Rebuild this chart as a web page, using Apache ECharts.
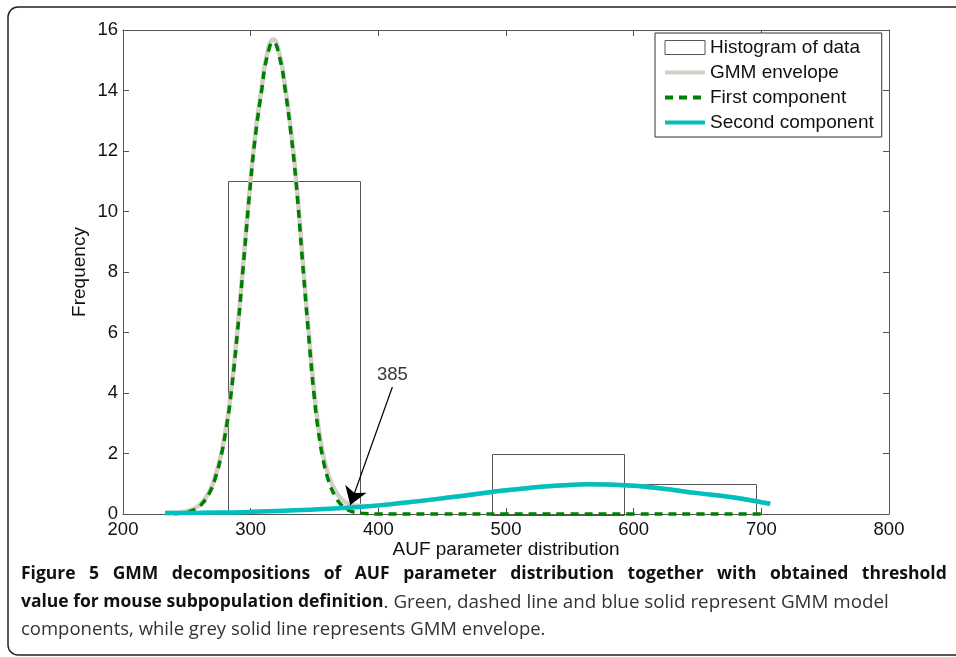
<!DOCTYPE html>
<html>
<head>
<meta charset="utf-8">
<script src="https://cdn.jsdelivr.net/npm/echarts@6/dist/echarts.min.js"></script>
<style>
html,body{margin:0;padding:0;background:#fff}
#main{width:956px;height:657px}
</style>
</head>
<body>
<div id="main"></div>
<script>
// histogram bins: [left edge, right edge, count]
var histBins = [[282, 385.5, 11], [385.5, 489, 0], [489, 592.5, 2], [592.5, 696, 1]];

// GMM envelope
var envX = [233, 240, 246, 252, 257, 262, 268, 272, 277, 280.5, 284, 289.5, 294.2, 300, 304, 308.6, 312.5, 317.7, 322.9, 327.1,
            331.2, 335.5, 340.7, 345, 349.5, 353, 357, 361, 366, 371, 377, 383, 392, 400, 420, 460, 489, 520, 545, 565,
            593, 620, 650, 680, 700, 707];
var envY = [0.03, 0.04, 0.065, 0.12, 0.21, 0.38, 0.77, 1.2, 2.0, 2.8, 3.81, 6.01, 8.27, 11.07, 12.68, 14.08, 15.14, 15.69, 15.15, 14.1,
            12.81, 11.12, 8.43, 6.24, 4.15, 2.91, 1.92, 1.28, 0.79, 0.5, 0.33, 0.275, 0.26, 0.28, 0.37, 0.57, 0.73, 0.87, 0.95, 0.98,
            0.95, 0.85, 0.69, 0.54, 0.39, 0.34];

// first component (green dashed)
var comp1X = [240, 246, 252, 257, 262, 268, 272, 277, 280.5, 284, 289.5, 294.2, 300, 304, 308.6, 312.5, 317.7, 322.9, 327.1, 331.2,
              335.5, 340.7, 345, 349.5, 353, 357, 361, 366, 371, 377, 383, 392, 400, 450, 500, 550, 600, 650, 700];
var comp1Y = [0.01, 0.03, 0.08, 0.17, 0.34, 0.72, 1.15, 1.95, 2.75, 3.75, 5.95, 8.2, 11.0, 12.6, 14.0, 15.05, 15.6, 15.05, 14.0, 12.7,
              11.0, 8.3, 6.1, 4.0, 2.75, 1.75, 1.1, 0.6, 0.3, 0.12, 0.05, 0.01, 0, 0, 0, 0, 0, 0, 0];

// second component (cyan)
var comp2X = [233, 260, 300, 340, 385, 420, 460, 489, 520, 545, 565, 593, 620, 650, 680, 700, 707];
var comp2Y = [0.03, 0.04, 0.07, 0.13, 0.23, 0.37, 0.57, 0.73, 0.87, 0.95, 0.98, 0.95, 0.85, 0.69, 0.54, 0.39, 0.34];

// threshold annotation
var arrowFrom = [411, 4.2];
var arrowTo = [378, 0.3];
var threshText = '385';

var caption1 = 'Figure 5 GMM decompositions of AUF parameter distribution together with obtained threshold';
var caption2b = 'value for mouse subpopulation definition';
var caption2 = '. Green, dashed line and blue solid represent GMM model';
var caption3 = 'components, while grey solid line represents GMM envelope.';

function pairs(xs, ys) {
  return xs.map(function (x, i) { return [x, ys[i]]; });
}

var font = 'Liberation Sans, Arial, sans-serif';
var capFont = 'Open Sans, Noto Sans, sans-serif';
var axisCol = '#555';

function frameAxis(pos, min, max, step) {
  return {
    type: 'value', position: pos, min: min, max: max, interval: step,
    axisLine: { show: true, onZero: false, lineStyle: { color: axisCol, width: 1 } },
    axisTick: { show: true, inside: true, length: 6, lineStyle: { color: axisCol } },
    axisLabel: { show: false },
    splitLine: { show: false }
  };
}

// justified first caption line: widen the word gaps
var cap1Rich = caption1.split(' ').map(function (w) { return '{b|' + w + '}'; }).join('{s| }');

var chart = echarts.init(document.getElementById('main'));
chart.setOption({
  animation: false,
  grid: { left: 123, right: 67, top: 30, bottom: 143 },
  legend: {
    orient: 'vertical', left: 655, top: 33,
    padding: [5, 8, 5, 8],
    itemWidth: 40, itemHeight: 14, itemGap: 6, itemTextGap: 4,
    backgroundColor: '#fff', borderColor: '#333', borderWidth: 1, borderRadius: 0,
    lineStyle: { width: 4 },
    textStyle: { fontSize: 19, color: '#111', fontFamily: font },
    data: [
      { name: 'Histogram of data', icon: 'rect', itemStyle: { color: '#fff', borderColor: '#555', borderWidth: 1 } },
      { name: 'GMM envelope', itemStyle: { opacity: 0 } },
      { name: 'First component', itemStyle: { opacity: 0 } },
      { name: 'Second component', itemStyle: { opacity: 0 } }
    ]
  },
  xAxis: [{
    type: 'value', min: 200, max: 800, interval: 100,
    name: 'AUF parameter distribution', nameLocation: 'middle', nameGap: 26, nameMoveOverlap: false,
    nameTextStyle: { fontSize: 19, color: '#111', fontFamily: font },
    axisLine: { show: true, onZero: false, lineStyle: { color: axisCol, width: 1 } },
    axisTick: { show: true, inside: true, length: 6, lineStyle: { color: axisCol } },
    axisLabel: { fontSize: 18.5, color: '#111', margin: 6, fontFamily: font },
    splitLine: { show: false }
  }, frameAxis('top', 200, 800, 100)],
  yAxis: [{
    type: 'value', min: 0, max: 16, interval: 2,
    name: 'Frequency', nameLocation: 'middle', nameGap: 34, nameMoveOverlap: false,
    nameTextStyle: { fontSize: 19, color: '#111', fontFamily: font },
    axisLine: { show: true, onZero: false, lineStyle: { color: axisCol, width: 1 } },
    axisTick: { show: true, inside: true, length: 6, lineStyle: { color: axisCol } },
    axisLabel: { fontSize: 18.5, color: '#111', margin: 5, fontFamily: font },
    splitLine: { show: false }
  }, frameAxis('right', 0, 16, 2)],
  series: [
    {
      type: 'custom', name: 'Histogram of data', data: histBins, z: 1,
      encode: { x: [0, 1], y: 2 },
      renderItem: function (params, api) {
        var p0 = api.coord([api.value(0), api.value(2)]);
        var p1 = api.coord([api.value(1), 0]);
        return {
          type: 'rect',
          shape: { x: Math.round(p0[0]) + 0.5, y: Math.round(p0[1]) + 0.5, width: Math.round(p1[0] - p0[0]), height: Math.round(p1[1] - p0[1]) },
          style: { fill: 'none', stroke: '#555', lineWidth: 1 }
        };
      }
    },
    {
      type: 'line', name: 'GMM envelope', data: pairs(envX, envY), z: 2,
      smooth: true, symbol: 'none', showSymbol: false, clip: false,
      lineStyle: { color: '#d4d0c8', width: 4.5 }, itemStyle: { color: '#d4d0c8' }
    },
    {
      type: 'line', name: 'First component', data: pairs(comp1X, comp1Y), z: 3,
      smooth: true, symbol: 'none', showSymbol: false, clip: false,
      lineStyle: { color: '#008000', width: 3.5, type: [8, 6] }, itemStyle: { color: '#008000' }
    },
    {
      type: 'line', name: 'Second component', data: pairs(comp2X, comp2Y), z: 4,
      smooth: true, symbol: 'none', showSymbol: false, clip: false,
      lineStyle: { color: '#00bfbf', width: 4.5 }, itemStyle: { color: '#00bfbf' }
    },
    {
      type: 'scatter', name: 'threshold', data: [arrowFrom], z: 5,
      symbolSize: 0, silent: true,
      label: { show: true, position: 'top', distance: 3, formatter: threshText, fontSize: 18.5, color: '#000', fontFamily: font },
      markLine: {
        silent: true, symbol: ['none', 'arrow'], symbolSize: 17,
        label: { show: false },
        lineStyle: { color: '#000', width: 1.2, type: 'solid' },
        data: [[{ coord: arrowFrom }, { coord: arrowTo }]]
      }
    }
  ],
  graphic: [
    { type: 'rect', silent: true, z: -1, shape: { x: 8, y: 7, width: 1000, height: 648, r: 10 }, style: { fill: 'none', stroke: '#222', lineWidth: 1.5 } },
    { type: 'text', left: 21, top: 565, style: {
        text: cap1Rich,
        rich: {
          b: { fontSize: 17.5, fontWeight: 'bold', fontFamily: capFont, fill: '#111' },
          s: { fontSize: 17.5, fontWeight: 'bold', fontFamily: capFont, width: 13.5 }
        }
    } },
    { type: 'text', left: 21, top: 593, style: {
        text: '{b|' + caption2b + '}{n|' + caption2 + '}',
        rich: {
          b: { fontSize: 17.5, fontWeight: 'bold', fontFamily: capFont, fill: '#111' },
          n: { fontSize: 18.8, fontFamily: capFont, fill: '#333' }
        }
    } },
    { type: 'text', left: 21, top: 620, style: { text: caption3, fontSize: 18.5, fontFamily: capFont, fill: '#333' } }
  ]
});
</script>
</body>
</html>
